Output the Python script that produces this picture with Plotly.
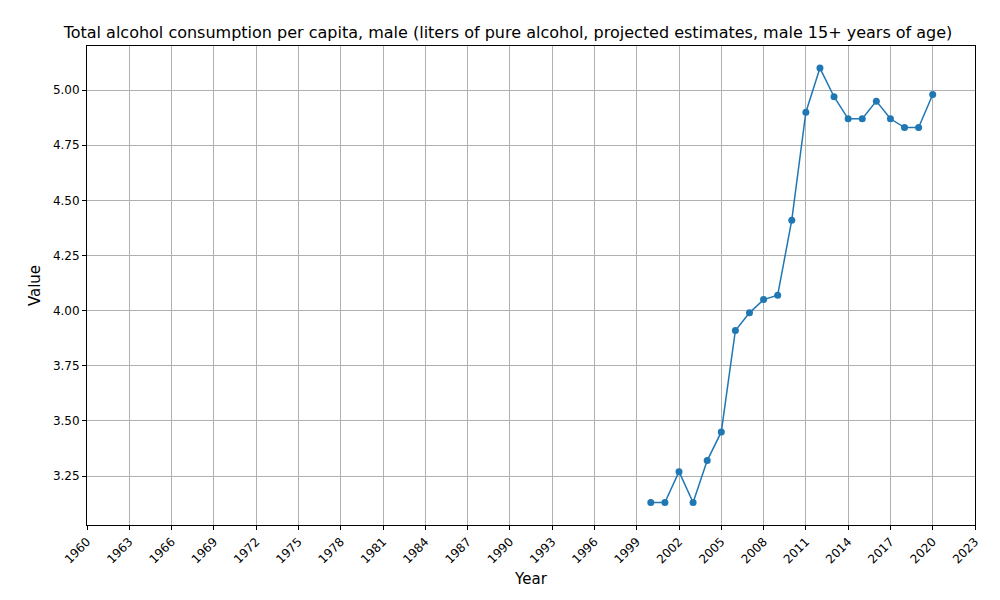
import plotly.graph_objects as go

years = list(range(2000, 2021))
values = [3.13, 3.13, 3.27, 3.13, 3.32, 3.45, 3.91, 3.99, 4.05, 4.07, 4.41,
          4.90, 5.10, 4.97, 4.87, 4.87, 4.95, 4.87, 4.83, 4.83, 4.98]
tick_years = list(range(1960, 2024, 3))

fig = go.Figure(
    data=go.Scatter(
        x=years,
        y=values,
        mode="lines+markers",
        line=dict(color="#1f77b4", width=1.5),
        marker=dict(size=7, color="#1f77b4")
    )
)

axis_style = dict(
    showgrid=True, gridcolor="#b0b0b0", gridwidth=1,
    showline=True, linecolor="black", mirror=True,
    ticks="outside", ticklen=4, tickcolor="black",
    zeroline=False, tickfont=dict(size=12, color="black"),
    automargin=False,
)

fig.update_layout(
    width=1000, height=600,
    paper_bgcolor="white", plot_bgcolor="white",
    font=dict(family="DejaVu Sans", color="black"),
    margin=dict(l=79, r=33, t=38, b=83),
    showlegend=False,
    title=dict(
        text="Total alcohol consumption per capita, male (liters of pure alcohol, projected estimates, male 15+ years of age)",
        x=0.5, xanchor="center", y=0.96, yanchor="middle",
        font=dict(size=16),
        automargin=False,
    ),
    xaxis=dict(axis_style, range=[1960, 2023], tickvals=tick_years, tickangle=-45,
               title=dict(text="Year", font=dict(size=15), standoff=8)),
    yaxis=dict(axis_style, range=[3.028, 5.20], tickvals=[3.25, 3.5, 3.75, 4.0, 4.25, 4.5, 4.75, 5.0],
               tickformat=".2f",
               title=dict(text="Value", font=dict(size=15), standoff=8)),
)

fig.write_html("out.html")
